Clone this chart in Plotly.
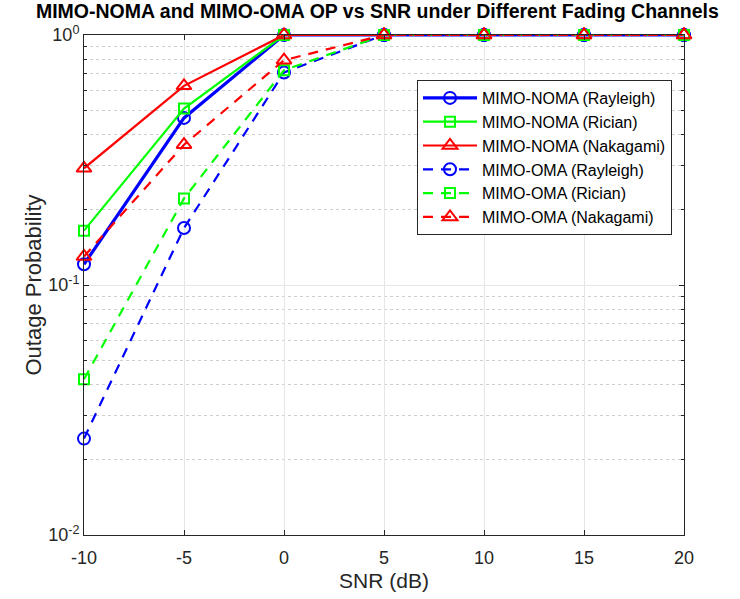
import plotly.graph_objects as go

snr = [-10, -5, 0, 5, 10, 15, 20]

noma_rayleigh = [0.121, 0.466, 1.0, 1.0, 1.0, 1.0, 1.0]
noma_rician = [0.165, 0.508, 1.0, 1.0, 1.0, 1.0, 1.0]
noma_nakagami = [0.293, 0.626, 1.0, 1.0, 1.0, 1.0, 1.0]
oma_rayleigh = [0.0243, 0.169, 0.708, 1.0, 1.0, 1.0, 1.0]
oma_rician = [0.042, 0.222, 0.723, 1.0, 1.0, 1.0, 1.0]
oma_nakagami = [0.130, 0.364, 0.793, 1.0, 1.0, 1.0, 1.0]

series = [
    ("MIMO-NOMA (Rayleigh)", noma_rayleigh, "#0000FF", "solid", "circle-open", 3.2),
    ("MIMO-NOMA (Rician)", noma_rician, "#00FF00", "solid", "square-open", 2.2),
    ("MIMO-NOMA (Nakagami)", noma_nakagami, "#FF0000", "solid", "triangle-up-open", 2.2),
    ("MIMO-OMA (Rayleigh)", oma_rayleigh, "#0000FF", "dash", "circle-open", 2.2),
    ("MIMO-OMA (Rician)", oma_rician, "#00FF00", "dash", "square-open", 2.2),
    ("MIMO-OMA (Nakagami)", oma_nakagami, "#FF0000", "dash", "triangle-up-open", 2.2),
]

xticks = [-10, -5, 0, 5, 10, 15, 20]
xticktext = ["-10", "-5", "0", "5", "10", "15", "20"]
yticks = [0.01, 0.1, 1]
yticktext = ["10<sup>-2</sup>", "10<sup>-1</sup>", "10<sup>0</sup>"]

fig = go.Figure()
for name, vals, color, dash, sym, w in series:
    fig.add_trace(go.Scatter(
        x=snr, y=vals, name=name, mode="lines+markers",
        line=dict(color=color, dash="10px,8px" if dash == "dash" else "solid", width=w),
        marker=dict(symbol=sym, size=12 if "circle" in sym else (10 if "square" in sym else 13),
                    color=color, line=dict(color=color, width=2)),
        cliponaxis=False,
    ))

axcol = "#262626"
fig.update_layout(
    width=740, height=599,
    margin=dict(l=84, r=56, t=35, b=64),
    paper_bgcolor="white", plot_bgcolor="white",
    font=dict(family="Liberation Sans, Arial, sans-serif", color=axcol, size=18),
    title=dict(text="<b>MIMO-NOMA and MIMO-OMA OP vs SNR under Different Fading Channels</b>",
               x=0.51, xanchor="center", y=0.993, yanchor="top",
               font=dict(size=19.5, color="black", family="Liberation Sans, Arial, sans-serif")),
    legend=dict(x=0.555, y=0.91, xanchor="left", yanchor="top",
                bgcolor="white", bordercolor=axcol, borderwidth=1,
                font=dict(size=16, color="black"), tracegroupgap=0, itemwidth=54),
    showlegend=True,
)
fig.update_xaxes(
    range=[-10, 20], tickvals=xticks, ticktext=xticktext, ticks="inside", ticklen=5, tickcolor=axcol,
    showline=True, linecolor=axcol, linewidth=1, mirror="ticks",
    showgrid=True, gridcolor="#E6E6E6", zeroline=False, ticklabelstandoff=6,
    title=dict(text="SNR (dB)", standoff=6, font=dict(size=21)),
    tickfont=dict(size=18),
)
fig.update_yaxes(
    type="log", range=[-2, 0], tickvals=yticks, ticktext=yticktext,
    ticks="inside", ticklen=5, tickcolor=axcol,
    showline=True, linecolor=axcol, linewidth=1, mirror="ticks",
    showgrid=True, gridcolor="#E6E6E6", zeroline=False,
    minor=dict(dtick="D1", showgrid=True, gridcolor="#CFCFCF", griddash="dot",
               ticks="inside", ticklen=3, tickcolor=axcol),
    title=dict(text="Outage Probability", standoff=0, font=dict(size=22)),
    tickfont=dict(size=18),
)

fig.write_html("out.html")
